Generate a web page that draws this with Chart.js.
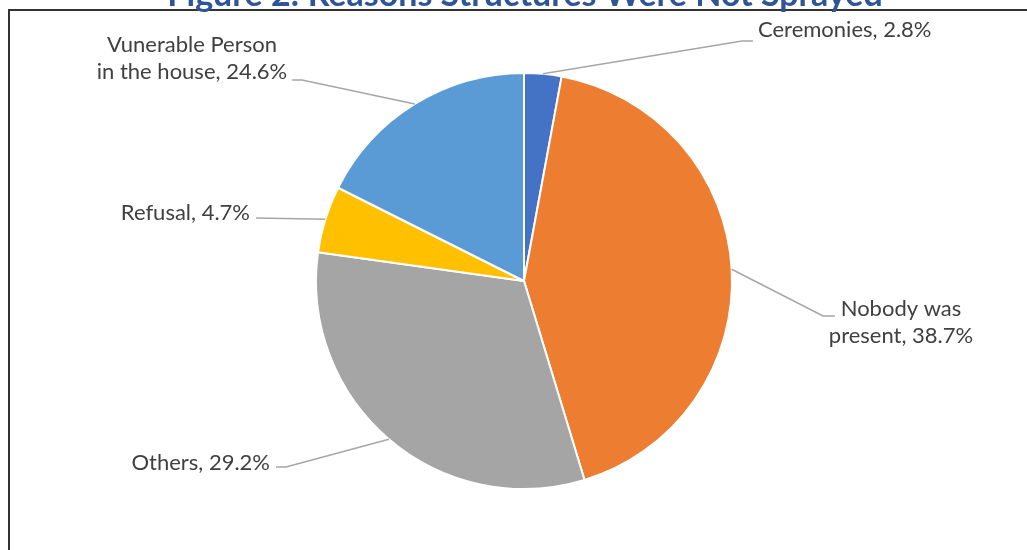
<!DOCTYPE html>
<html>
<head>
<meta charset="utf-8">
<script src="https://cdn.jsdelivr.net/npm/chart.js@4.4.0/dist/chart.umd.min.js"></script>
<style>
  html, body { margin: 0; padding: 0; background: #fff; }
  #wrap { position: relative; width: 1027px; height: 550px; }
</style>
</head>
<body>
<div id="wrap"><canvas id="pieChart" width="1027" height="550"></canvas></div>
<script>
// categories, in drawing order (clockwise from 12 o'clock)
var categories = ['Ceremonies', 'Nobody was present', 'Others', 'Refusal', 'Vunerable Person in the house'];
// slice sizes as drawn in the picture (share of the circle, %)
var sliceShare = [2.9, 42.4, 31.9, 5.2, 17.6];
// percentages printed on the labels
var labelPct = ['2.8%', '38.7%', '29.2%', '4.7%', '24.6%'];
// label text lines
var labelLines = [
    ['Ceremonies, ' + labelPct[0]],
    ['Nobody was', 'present, ' + labelPct[1]],
    ['Others, ' + labelPct[2]],
    ['Refusal, ' + labelPct[3]],
    ['Vunerable Person', 'in the house, ' + labelPct[4]]
];
var colors = ['#4472C4', '#ED7D31', '#A5A5A5', '#FFC000', '#5B9BD5'];
var titleText = 'Figure 2: Reasons Structures Were Not Sprayed';

// where each label sits, relative to the pie centre (elbow, end of leader, text point)
var labelLayout = [
    { elbow: [218, -240], end: [229, -240], text: [234, -251], align: 'left' },
    { elbow: [299, 35], end: [311, 35], text: [377, 28], align: 'center' },
    { elbow: [-238, 186], end: [-248, 186], text: [-254, 182], align: 'right' },
    { elbow: [-268, -63], end: [-268, -63], text: [-274, -68], align: 'right' },
    { elbow: [-222, -201], end: [-232, -201], text: [-332, -236], align: 'center' }
];

var labelPlugin = {
    id: 'leaderLabels',
    afterDraw: function (chart) {
        var ctx = chart.ctx;
        var arcs = chart.getDatasetMeta(0).data;
        ctx.save();

        // page frame
        ctx.strokeStyle = '#333';
        ctx.lineWidth = 2;
        ctx.beginPath();
        ctx.moveTo(9, 550);
        ctx.lineTo(9, 10);
        ctx.lineTo(1027, 10);
        ctx.stroke();

        // clipped title
        ctx.fillStyle = '#2F5597';
        ctx.font = 'bold 34px Lato';
        ctx.textAlign = 'center';
        ctx.textBaseline = 'alphabetic';
        ctx.fillText(titleText, 525, 6);

        ctx.font = '22px Lato';
        ctx.textBaseline = 'middle';
        arcs.forEach(function (arc, i) {
            var p = arc.getProps(['x', 'y', 'startAngle', 'endAngle', 'outerRadius'], true);
            var mid = (p.startAngle + p.endAngle) / 2;
            var ax = p.x + Math.cos(mid) * p.outerRadius;
            var ay = p.y + Math.sin(mid) * p.outerRadius;
            var lay = labelLayout[i];

            ctx.strokeStyle = '#A6A6A6';
            ctx.lineWidth = 1.5;
            ctx.beginPath();
            ctx.moveTo(ax, ay);
            ctx.lineTo(p.x + lay.elbow[0], p.y + lay.elbow[1]);
            ctx.lineTo(p.x + lay.end[0], p.y + lay.end[1]);
            ctx.stroke();

            ctx.fillStyle = '#404040';
            ctx.textAlign = lay.align;
            labelLines[i].forEach(function (line, j) {
                ctx.fillText(line, p.x + lay.text[0], p.y + lay.text[1] + j * 27);
            });
        });
        ctx.restore();
    }
};

var pieChart = new Chart(document.getElementById('pieChart'), {
    type: 'pie',
    data: {
        labels: categories,
        datasets: [{
            data: sliceShare,
            backgroundColor: colors,
            borderColor: '#fff',
            borderWidth: 2
        }]
    },
    options: {
        responsive: false,
        animation: false,
        layout: { padding: { left: 21, right: 0, top: 72, bottom: 60 } },
        plugins: {
            legend: { display: false },
            tooltip: { enabled: false }
        }
    },
    plugins: [labelPlugin]
});
</script>
</body>
</html>
